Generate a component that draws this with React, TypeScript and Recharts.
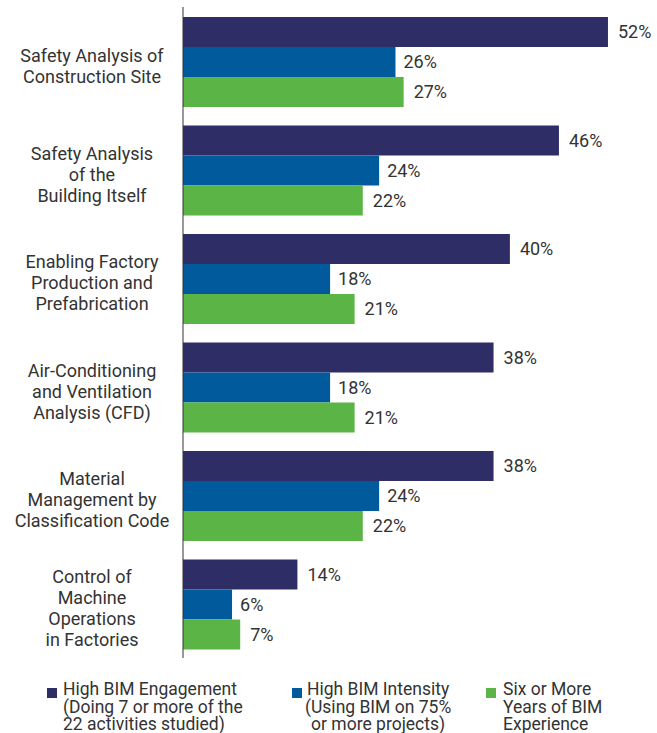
import React from "react";
import { BarChart, Bar, XAxis, YAxis, LabelList, Legend } from "recharts";

const categories = [
  "Safety Analysis of\nConstruction Site",
  "Safety Analysis\nof the\nBuilding Itself",
  "Enabling Factory\nProduction and\nPrefabrication",
  "Air-Conditioning\nand Ventilation\nAnalysis (CFD)",
  "Material\nManagement by\nClassification Code",
  "Control of\nMachine\nOperations\nin Factories",
];
const highEngagement = [52, 46, 40, 38, 38, 14];
const highIntensity = [26, 24, 18, 18, 24, 6];
const sixYears = [27, 22, 21, 21, 22, 7];

const seriesNames = [
  "High BIM Engagement\n(Doing 7 or more of the\n22 activities studied)",
  "High BIM Intensity\n(Using BIM on 75%\nor more projects)",
  "Six or More\nYears of BIM\nExperience",
];
const colors = ["#2E2D66", "#005A9C", "#5BB546"];

const data = categories.map((c, i) => ({
  name: c,
  engagement: highEngagement[i],
  intensity: highIntensity[i],
  years: sixYears[i],
}));

const FONT = "Roboto, 'Noto Sans', sans-serif";
const TEXT = "#333333";

const CategoryTick = (props: any) => {
  const { y, payload } = props;
  const lines = String(payload.value).split("\n");
  const lh = 21;
  const startY = y + 4 - ((lines.length - 1) * lh) / 2;
  return (
    <text
      x={92}
      y={startY}
      textAnchor="middle"
      dominantBaseline="central"
      fill={TEXT}
      fontSize={18}
      fontFamily={FONT}
    >
      {lines.map((l, i) => (
        <tspan key={i} x={92} y={startY + i * lh}>
          {l}
        </tspan>
      ))}
    </text>
  );
};

const legendPos = [
  { sq: 47, tx: 63, align: "left" as const },
  { sq: 292, tx: 305, align: "center" as const },
  { sq: 486, tx: 503, align: "left" as const },
];

const LegendContent = () => (
  <div style={{ position: "relative", width: 657, height: 0, overflow: "visible", fontFamily: FONT, color: TEXT }}>
    {seriesNames.map((n, i) => (
      <React.Fragment key={i}>
        <div
          style={{
            position: "absolute",
            left: legendPos[i].sq,
            top: 7,
            width: 10,
            height: 10,
            background: colors[i],
          }}
        />
        <div
          style={{
            position: "absolute",
            left: legendPos[i].tx,
            top: 0,
            fontSize: 17.5,
            lineHeight: "17.5px",
            whiteSpace: "pre",
            textAlign: legendPos[i].align,
          }}
        >
          {n}
        </div>
      </React.Fragment>
    ))}
  </div>
);

export default function App() {
  return (
    <div style={{ position: "absolute", left: 0, top: 0, width: 657, height: 733, background: "#fff", overflow: "hidden" }}>
      <BarChart
        width={657}
        height={733}
        data={data}
        layout="vertical"
        margin={{ top: 7, right: 0, bottom: 75, left: 0 }}
        barCategoryGap={10}
        barGap={0}
      >
        <XAxis type="number" hide domain={[0, 58]} />
        <YAxis
          type="category"
          dataKey="name"
          width={183}
          axisLine={{ stroke: "#333", strokeWidth: 1 }}
          tickLine={false}
          tick={<CategoryTick />}
          interval={0}
        />
        <Legend
          content={<LegendContent />}
          height={0}
          wrapperStyle={{ position: "absolute", left: 0, top: 681, width: 657, height: 0 }}
        />
        <Bar dataKey="engagement" fill={colors[0]} isAnimationActive={false}>
          <LabelList dataKey="engagement" position="right" offset={10} formatter={(v: any) => `${v}%`} fill={TEXT} fontSize={18} fontFamily={FONT} />
        </Bar>
        <Bar dataKey="intensity" fill={colors[1]} isAnimationActive={false}>
          <LabelList dataKey="intensity" position="right" offset={8} formatter={(v: any) => `${v}%`} fill={TEXT} fontSize={18} fontFamily={FONT} />
        </Bar>
        <Bar dataKey="years" fill={colors[2]} isAnimationActive={false}>
          <LabelList dataKey="years" position="right" offset={10} formatter={(v: any) => `${v}%`} fill={TEXT} fontSize={18} fontFamily={FONT} />
        </Bar>
      </BarChart>
    </div>
  );
}
